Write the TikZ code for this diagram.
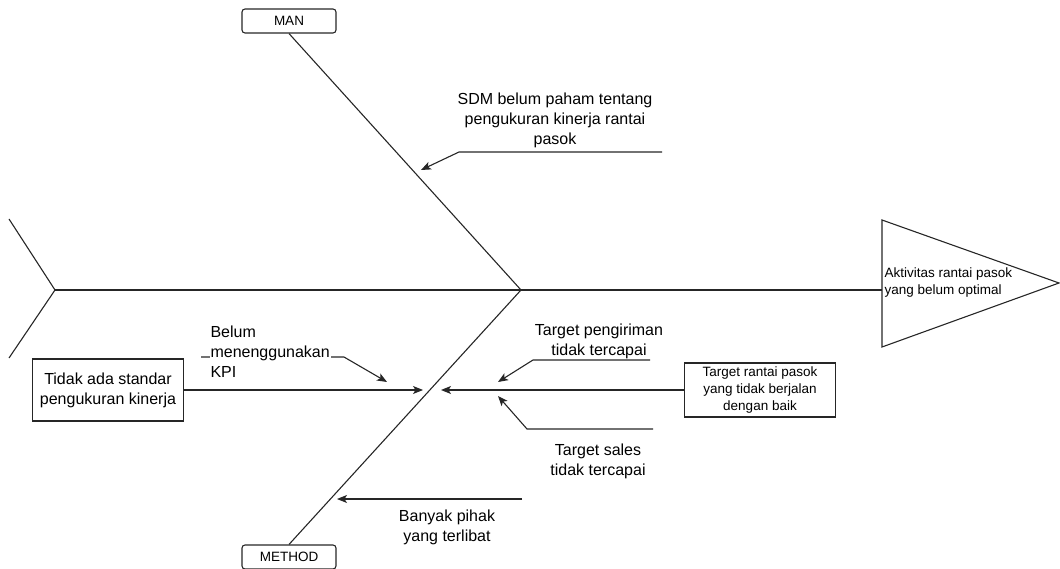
\documentclass[tikz,border=0pt]{standalone}
\usepackage{fontspec}
\setmainfont{Liberation Sans}
\usetikzlibrary{arrows.meta}
\tikzstyle{fishbonestyle}=[
    x=1pt, y=-1pt,
    >={Stealth[length=10pt,width=8pt,inset=2.5pt]},
    line width=1.1pt,
    draw=black!85,
    bigtext/.style={
        font=\fontsize{16}{20}\selectfont,
        align=center,
        inner sep=1pt,
    },
    smalltext/.style={
        font=\fontsize{13.5}{17}\selectfont,
        align=center,
        inner sep=1pt,
    },
    catbox/.style={smalltext, draw, rounded corners=3pt, minimum width=94pt, minimum height=24pt},
    causebox/.style={draw, minimum width=151pt},
]

\begin{document}
\begin{tikzpicture}[fishbonestyle]
        \useasboundingbox (0,0) rectangle (1060,569);
        \node[catbox] (man) at (289,21) {MAN};
        \node[catbox] (method) at (289,557) {METHOD};
        \coordinate (head) at (521,290);
        \coordinate (tail) at (55,290);
        \coordinate (tailtop) at (9,219);
        \coordinate (tailbot) at (9,358);
        \coordinate (effectin) at (882,290);
        \draw (882,220) -- (1059,283) -- (882,347) -- cycle;
        \node[smalltext, anchor=west, align=left] (effect) at (883,283) {Aktivitas rantai pasok\\yang belum optimal};
        \draw (tailtop) -- (tail) -- (tailbot);
        \draw (tail) -- (effectin);
        \draw (man.south) -- (head) -- (method.north);

        \node[bigtext] (sdm) at (555,120) {SDM belum paham tentang\\pengukuran kinerja rantai\\pasok};
        \coordinate (sdmA) at (662,152);
        \coordinate (sdmB) at (459,152);
        \coordinate (sdmC) at (421,170);
        \draw[->] (sdmA) -- (sdmB) -- (sdmC);

        \node[causebox, bigtext, minimum height=62pt] (standar) at (108,390) {Tidak ada standar\\pengukuran kinerja};
        \coordinate (standarEnd) at (423,390);
        \draw[->] (standar) -- (standarEnd);

        \coordinate (kpiA) at (201,357);
        \coordinate (kpiB) at (344,357);
        \coordinate (kpiC) at (387,382);
        \draw[->] (kpiA) -- (kpiB) -- (kpiC);
        \node[bigtext, align=left, fill=white, anchor=west] (kpi) at (209,352) {Belum\\menenggunakan\\KPI};

        \node[causebox, smalltext, minimum height=54pt] (target) at (760,390) {Target rantai pasok\\yang tidak berjalan\\dengan baik};
        \coordinate (targetEnd) at (441,390);
        \draw[->] (target) -- (targetEnd);

        \node[bigtext] (kirim) at (599,341) {Target pengiriman\\tidak tercapai};
        \coordinate (kirimA) at (650,360);
        \coordinate (kirimB) at (533,360);
        \coordinate (kirimC) at (498,382);
        \draw[->] (kirimA) -- (kirimB) -- (kirimC);

        \node[bigtext] (sales) at (598,461) {Target sales\\tidak tercapai};
        \coordinate (salesA) at (653,429);
        \coordinate (salesB) at (527,429);
        \coordinate (salesC) at (498,396);
        \draw[->] (salesA) -- (salesB) -- (salesC);

        \node[bigtext] (banyak) at (447,527) {Banyak pihak\\yang terlibat};
        \coordinate (banyakA) at (522,499);
        \coordinate (banyakB) at (337,499);
        \draw[->] (banyakA) -- (banyakB);
    \end{tikzpicture}
\end{document}
